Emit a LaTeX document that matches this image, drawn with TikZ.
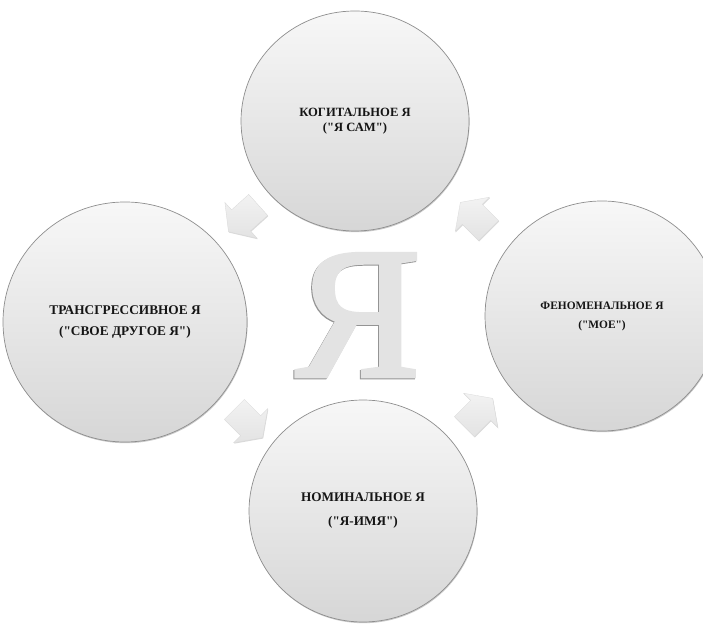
\documentclass[tikz,border=0pt]{standalone}
\usepackage{fontspec}
\setmainfont{Liberation Serif}[Ligatures=TeXOff]
\newfontfamily\bigyafont{Liberation Serif}[FakeBold=2.5]
\usetikzlibrary{shapes.geometric,shapes.arrows,shadows}
\definecolor{rimgray}{HTML}{8E8E8E}
\definecolor{txtdark}{HTML}{151515}
\begin{document}
\begin{tikzpicture}[x=1pt,y=1pt,
  bubble/.style={ellipse, draw=rimgray, line width=0.7pt,
    top color=black!3, bottom color=black!16, inner sep=0pt,
    align=center, text=txtdark,
    drop shadow={shadow xshift=0.6pt, shadow yshift=-1.2pt, opacity=0.3, fill=black!70}},
  cyc/.style={single arrow, single arrow tip angle=110,
    single arrow head extend=10pt, minimum height=40pt,
    inner xsep=0pt, inner ysep=14pt,
    top color=black!5, bottom color=black!11,
    draw=black!15, line width=0.3pt,
    drop shadow={shadow xshift=0.5pt, shadow yshift=-0.9pt, opacity=0.25, fill=black!60}}
]
\useasboundingbox (0,0) rectangle (703,623);
\clip (0,0) rectangle (703,623);

% circles
\node[bubble, minimum width=228pt, minimum height=220pt,
      font=\bfseries\fontsize{12.6}{15}\selectfont] (kog) at (355,502)
      {КОГИТАЛЬНОЕ Я\\("Я САМ")};
\node[bubble, minimum width=244pt, minimum height=240pt,
      font=\bfseries\fontsize{13.3}{21}\selectfont] (tra) at (125,301)
      {ТРАНСГРЕССИВНОЕ Я\\("СВОЕ ДРУГОЕ Я")};
\node[bubble, minimum width=234pt, minimum height=230pt,
      font=\bfseries\fontsize{11.4}{19}\selectfont] (fen) at (602,307)
      {ФЕНОМЕНАЛЬНОЕ Я\\("МОЕ")};
\node[bubble, minimum width=228pt, minimum height=222pt,
      font=\bfseries\fontsize{13.2}{24}\selectfont] (nom) at (363,112)
      {НОМИНАЛЬНОЕ Я\\("Я-ИМЯ")};

% cycle arrows
\node[cyc, rotate=222] (a1) at (247,408) {};
\node[cyc, rotate=-45] (a2) at (245,203) {};
\node[cyc, rotate=45]  (a3) at (475,207) {};
\node[cyc, rotate=135] (a4) at (478,403) {};

% central letter
\node[font=\bigyafont\fontsize{186}{186}\selectfont, text=black!42, anchor=base,
      inner sep=0pt] (yashadow) at (357,246) {Я};
\node[font=\bigyafont\fontsize{186}{186}\selectfont, text=black!11, anchor=base,
      inner sep=0pt] (ya) at (358,247) {Я};
\end{tikzpicture}
\end{document}
